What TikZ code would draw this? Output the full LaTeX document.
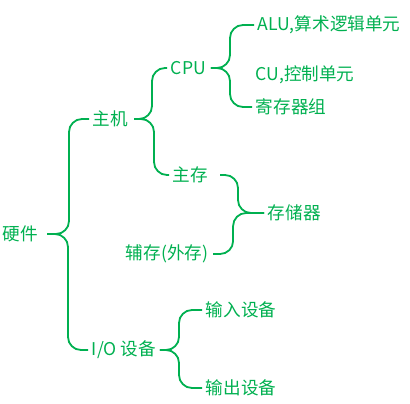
\documentclass[tikz,border=0pt]{standalone}
\usepackage{fontspec}
\setmainfont{Noto Sans CJK SC}
\definecolor{kgreen}{HTML}{00B050}
\begin{document}
\begin{tikzpicture}[x=1pt, y=-1pt, line width=1.8pt,
  every node/.style={anchor=west, inner sep=3pt, text=kgreen,
    font=\fontsize{17.6}{20}\selectfont},
  brace/.style={draw=kgreen, rounded corners=13pt}]
  \useasboundingbox (0,0) rectangle (410,404);
  % 各项
  \node (hw) at (-1,234) {硬件};
  \node (host) at (89,119) {主机};
  \node (cpu) at (167,68) {CPU};
  \node (alu) at (254,25) {ALU,算术逻辑单元};
  \node (cu) at (252,75) {CU,控制单元};
  \node (reg) at (252,107) {寄存器组};
  \node (mem) at (169,175) {主存};
  \node (store) at (264,213) {存储器};
  \node (aux) at (122,254) {辅存(外存)};
  \node (io) at (88,350) {I/O 设备};
  \node (in) at (202,310) {输入设备};
  \node (out) at (202,388) {输出设备};
  % 硬件
  \draw[brace] ([xshift=5pt]hw.east) -| ([xshift=-20pt]host.west) -- (host.west);
  \draw[brace] ([xshift=5pt]hw.east) -| ([xshift=-20pt]io.west) -- (io.west);
  % 主机
  \draw[brace] ([xshift=2pt]host.east) -| ([xshift=-15pt]cpu.west) -- (cpu.west);
  \draw[brace] ([xshift=2pt]host.east) -| ([xshift=-15pt]mem.west) -- (mem.west);
  % CPU
  \draw[brace] ([xshift=1pt]cpu.east) -| ([xshift=-24pt]alu.west) -- (alu.west);
  \draw[brace] ([xshift=1pt]cpu.east) -| ([xshift=-22pt]reg.west) -- (reg.west);
  % 存储器
  \draw[brace] (store.west) -| ([xshift=26pt]mem.east) -- ([xshift=8pt]mem.east);
  \draw[brace] (store.west) -| ([xshift=21pt]aux.east) -- ([xshift=1pt]aux.east);
  % I/O 设备
  \draw[brace] (io.east) -| ([xshift=-23pt]in.west) -- (in.west);
  \draw[brace] (io.east) -| ([xshift=-23pt]out.west) -- (out.west);
\end{tikzpicture}
\end{document}
